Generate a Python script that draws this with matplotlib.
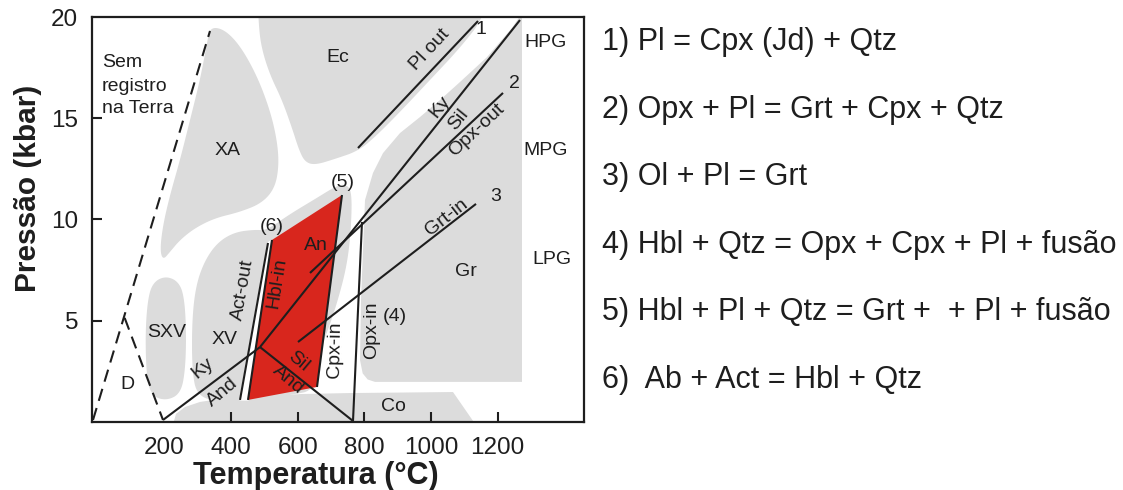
import numpy as np
import matplotlib
matplotlib.use('Agg')
import matplotlib.pyplot as plt
from matplotlib.patches import Polygon

plt.rcParams['font.family'] = ['Liberation Sans', 'DejaVu Sans']

# ---------------- data (T in °C, P in kbar) ----------------
# gray field outlines
xa_T = [337, 379, 427, 478, 517, 538, 544, 532, 493, 427, 352, 292, 247, 217, 196, 187, 196, 217, 247, 277, 307, 328]
xa_P = [19.5, 19.4, 18.6, 17.1, 15.4, 13.93, 12.69, 11.56, 10.81, 10.37, 10.07, 9.58, 8.99, 8.40, 8.0, 8.49, 9.73, 11.21, 12.94, 14.91, 16.89, 18.7]

ec_T = [478, 483, 493, 517, 553, 583, 604, 622, 652, 712, 781, 832, 907, 997, 1087, 1160, 1180]
ec_P = [22.0, 19.5, 18.37, 17.14, 15.90, 14.52, 13.43, 12.84, 12.69, 12.99, 13.38, 14.07, 15.31, 16.89, 18.47, 20.0, 22.0]

gr_T = [1273, 1243, 1168, 1087, 1027, 967, 907, 856, 826, 802, 799, 790, 787, 795, 810, 832, 1273]
gr_P = [20.2, 19.46, 18.02, 16.79, 15.90, 15.06, 14.27, 13.28, 12.30, 10.96, 9.73, 6.02, 3.06, 2.40, 2.10, 1.98, 1.98]

sxv_T = [205, 241, 259, 266, 263, 249, 205, 161, 146, 143, 152, 170]
sxv_P = [7.2, 6.95, 6.27, 4.54, 2.57, 1.40, 1.05, 1.30, 2.32, 4.54, 6.27, 6.95]

xv_T = [298, 283, 283, 295, 322, 361, 412, 472, 505, 577, 652, 715, 745, 763, 760, 748, 721, 691, 673, 655, 577, 457, 367]
xv_P = [1.28, 2.57, 5.04, 6.77, 8.0, 8.89, 9.38, 9.50, 9.45, 10.27, 11.01, 11.65, 11.75, 11.36, 9.48, 7.75, 6.02, 4.54, 3.80, 1.58, 1.33, 1.04, 0.99]

co_T = [223, 235, 262, 307, 367, 457, 607, 757, 1066, 1141]
co_P = [-0.3, 0.40, 0.74, 0.99, 1.14, 1.23, 1.38, 1.43, 1.48, -0.3]

# amphibolite (An) field
an_T = [523, 733, 658, 451]
an_P = [8.99, 11.21, 1.73, 1.09]

# reaction / boundary lines
dash1_T, dash1_P = [-14, 337], [0.1, 19.31]
dash2_T, dash2_P = [81, 196], [5.14, 0.1]
kyand_T, kyand_P = [196, 487], [0.1, 3.7]
kysil_T, kysil_P = [487, 1267], [3.7, 19.85]
andsil_T, andsil_P = [487, 766], [3.7, 0.05]
r1_T, r1_P = [781, 1141], [13.53, 19.8]
r2_T, r2_P = [637, 1216], [7.36, 16.25]
r3_T, r3_P = [601, 1135], [3.95, 10.77]
opxin_T, opxin_P = [793, 766], [9.88, 0.05]
actout_T, actout_P = [511, 427], [8.84, 1.09]
hblin_T, hblin_P = [523, 451], [8.99, 1.09]
cpxin_T, cpxin_P = [733, 658], [11.21, 1.73]

# labels
lab_text = ['Ec', 'XA', 'HPG', 'MPG', 'LPG', 'Gr', 'SXV', 'XV', 'D', 'Co', 'An',
            '(5)', '(6)', '(4)', '1', '2', '3', 'Sem', 'registro', 'na Terra']
lab_T = [721, 391, 1345, 1345, 1363, 1105, 208, 382, 88, 886, 655,
         736, 523, 892, 1150, 1249, 1195, 13, 13, 13]
lab_P = [18.02, 13.43, 18.72, 13.43, 8.0, 7.41, 4.40, 4.05, 1.83, 0.79, 8.74,
         11.85, 9.65, 5.19, 19.36, 16.74, 11.16, 17.73, 16.59, 15.46]

rot_text = ['Pl out', 'Ky', 'Sil', 'Opx-out', 'Grt-in', 'Act-out', 'Hbl-in',
            'Ky', 'And', 'Sil', 'And', 'Cpx-in', 'Opx-in']
rot_T = [997, 1027, 1081, 1138, 1048, 436, 538, 316, 373, 601, 571, 712, 823]
rot_P = [18.37, 15.56, 14.91, 14.42, 10.12, 6.52, 6.86, 2.67, 1.48, 3.01, 2.07, 3.56, 4.54]
rot_ang = [47, 51, 51, 43, 38, 80, 81, 40, 40, -40, -40, 89, 90]

reactions = ['1) Pl = Cpx (Jd) + Qtz',
             '2) Opx + Pl = Grt + Cpx + Qtz',
             '3) Ol + Pl = Grt',
             '4) Hbl + Qtz = Opx + Cpx + Pl + fusão',
             '5) Hbl + Pl + Qtz = Grt +  + Pl + fusão',
             '6)  Ab + Act = Hbl + Qtz']

x_ticks = [200, 400, 600, 800, 1000, 1200]
y_ticks = [5, 10, 15, 20]

# ---------------- drawing ----------------
W, H = 1123, 490
fig = plt.figure(figsize=(W / 100, H / 100), dpi=100)
ax = fig.add_axes([92 / W, 1 - 422 / H, (584 - 92) / W, (422 - 17) / H])
ax.set_xlim(-17, 1459)
ax.set_ylim(0, 20)

GRAY = '#dcdcdc'
RED = '#d8261d'
INK = '#1e1e1e'


def chaikin(T, P, n=3):
    pts = np.column_stack([T, P]).astype(float)
    for _ in range(n):
        nxt = np.roll(pts, -1, axis=0)
        q = 0.75 * pts + 0.25 * nxt
        r = 0.25 * pts + 0.75 * nxt
        new = np.empty((2 * len(pts), 2))
        new[0::2] = q
        new[1::2] = r
        pts = new
    return pts


for T, P, smooth in [(xa_T, xa_P, True), (ec_T, ec_P, True), (gr_T, gr_P, False),
                     (sxv_T, sxv_P, True), (xv_T, xv_P, True), (co_T, co_P, False)]:
    pts = chaikin(T, P) if smooth else np.column_stack([T, P])
    ax.add_patch(Polygon(pts, closed=True, facecolor=GRAY, edgecolor='none', zorder=1))

# white gap between Act-out and Hbl-in
gap = np.column_stack([actout_T + hblin_T[::-1], actout_P + hblin_P[::-1]])
ax.add_patch(Polygon(gap, closed=True, facecolor='white', edgecolor='white', lw=1.0, zorder=2))

ax.add_patch(Polygon(np.column_stack([an_T, an_P]), closed=True, facecolor=RED,
                     edgecolor='none', zorder=3))

LW = 1.5
ax.plot(dash1_T, dash1_P, color=INK, lw=LW, ls=(0, (6, 3.6)), zorder=4)
ax.plot(dash2_T, dash2_P, color=INK, lw=LW, ls=(0, (6, 3.6)), zorder=4)
for T, P in [(kyand_T, kyand_P), (kysil_T, kysil_P), (andsil_T, andsil_P),
             (r1_T, r1_P), (r2_T, r2_P), (r3_T, r3_P), (opxin_T, opxin_P),
             (actout_T, actout_P), (hblin_T, hblin_P), (cpxin_T, cpxin_P)]:
    ax.plot(T, P, color=INK, lw=LW, solid_capstyle='butt', zorder=4)

FS = 14
for s, T, P in zip(lab_text, lab_T, lab_P):
    ha = 'left' if s in ('Sem', 'registro', 'na Terra') else 'center'
    ax.text(T, P, s, ha=ha, va='center', fontsize=FS, color=INK, zorder=5)

for s, T, P, a in zip(rot_text, rot_T, rot_P, rot_ang):
    ax.text(T, P, s, ha='center', va='center', fontsize=FS, color=INK, rotation=a,
            rotation_mode='anchor', zorder=5)

# axes styling
for sp in ax.spines.values():
    sp.set_linewidth(1.6)
    sp.set_color(INK)
ax.set_xticks(x_ticks)
ax.set_xticklabels([str(v) for v in x_ticks])
ax.set_yticks(y_ticks)
ax.set_yticklabels([str(v) for v in y_ticks])
ax.tick_params(axis='both', direction='in', length=7, width=1.5, color=INK,
               labelsize=17.5, labelcolor=INK)
ax.tick_params(axis='x', pad=11)
ax.tick_params(axis='y', pad=10)
ax.xaxis.get_major_ticks()[0].tick1line.set_visible(False)
ax.yaxis.get_major_ticks()[-1].tick1line.set_visible(False)

fig.text(28 / W, 1 - 188 / H, 'Pressão (kbar)', rotation=90, ha='center', va='center',
         fontsize=21.5, fontweight='bold', color=INK)
fig.text(316 / W, 1 - 476 / H, 'Temperatura (°C)', ha='center', va='center',
         fontsize=22, fontweight='bold', color=INK)

for i, s in enumerate(reactions):
    yc = 42 + i * 67.6
    fig.text(602 / W, 1 - yc / H, s, ha='left', va='center', fontsize=22, color=INK)

fig.savefig('out.png', dpi=100, facecolor='white')
